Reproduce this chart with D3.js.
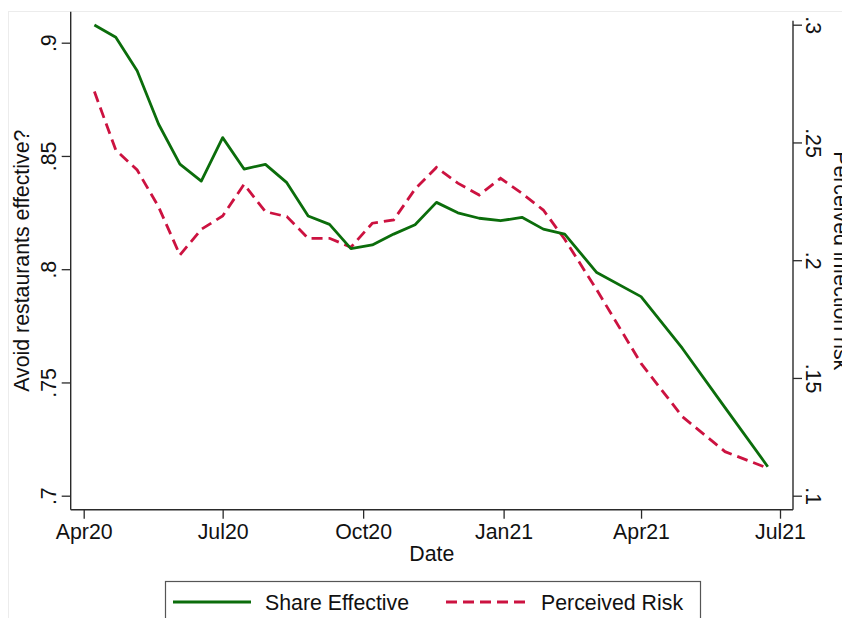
<!DOCTYPE html>
<html>
<head>
<meta charset="utf-8">
<script src="https://cdn.jsdelivr.net/npm/d3@7"></script>
<style>
  html, body { margin: 0; padding: 0; background: #fff; overflow: hidden; }
  svg { display: block; font-family: "Liberation Sans", Arial, Helvetica, sans-serif; }
</style>
</head>
<body>
<svg id="chart" width="842" height="618"></svg>
<script>
// Survey waves (roughly biweekly, monthly later)
const waveDates = [
  "2020-04-08", "2020-04-22", "2020-05-06", "2020-05-20", "2020-06-03", "2020-06-17",
  "2020-07-01", "2020-07-15", "2020-07-29", "2020-08-12", "2020-08-26", "2020-09-09",
  "2020-09-23", "2020-10-07", "2020-10-21", "2020-11-04", "2020-11-18", "2020-12-02",
  "2020-12-16", "2020-12-30", "2021-01-13", "2021-01-27", "2021-02-10", "2021-03-03",
  "2021-04-01", "2021-04-28", "2021-05-26", "2021-06-23"
];

// Share saying avoiding restaurants is effective (left axis)
const shareEffective = [
  0.9078, 0.9024, 0.8876, 0.8641, 0.8464, 0.8389,
  0.8581, 0.8442, 0.8463, 0.8382, 0.8235, 0.8198,
  0.8091, 0.8107, 0.8155, 0.8196, 0.8295, 0.8249,
  0.8225, 0.8214, 0.8229, 0.8177, 0.8155, 0.7985,
  0.7879, 0.7651, 0.7389, 0.7128
];

// Perceived infection risk (right axis)
const perceivedRisk = [
  0.2716, 0.2468, 0.2383, 0.2227, 0.2022, 0.2131,
  0.2188, 0.2322, 0.2206, 0.2185, 0.2093, 0.2093,
  0.2055, 0.2157, 0.2171, 0.2302, 0.2394, 0.2327,
  0.2277, 0.2348, 0.2284, 0.2213, 0.2089, 0.1874,
  0.1562, 0.1336, 0.1187, 0.1117
];

const xTickDates = ["2020-04-01", "2020-07-01", "2020-10-01", "2021-01-01", "2021-04-01", "2021-07-01"];
const xTickLabels = ["Apr20", "Jul20", "Oct20", "Jan21", "Apr21", "Jul21"];
const leftTicks = [0.7, 0.75, 0.8, 0.85, 0.9];
const leftTickLabels = [".7", ".75", ".8", ".85", ".9"];
const rightTicks = [0.1, 0.15, 0.2, 0.25, 0.3];
const rightTickLabels = [".1", ".15", ".2", ".25", ".3"];

const seriesNames = ["Share Effective", "Perceived Risk"];

const parse = d3.utcParse("%Y-%m-%d");
const svg = d3.select("#chart");

const FONT = 21.3;
const GREEN = "#0b6d0b";
const RED = "#cc1240";
const AXIS = "#2a2a2a";

// plot region edges
const L = 70.7, R = 793, T = 11.7, B = 509.7;

const x = d3.scaleUtc()
  .domain([parse("2020-04-01"), parse("2021-07-01")])
  .range([83.7, 780]);
const yL = d3.scaleLinear().domain([0.7, 0.9]).range([495.7, 42.7]);
const yR = d3.scaleLinear().domain([0.1, 0.3]).range([495.7, 24.7]);

// faint outer frame
svg.append("rect")
  .attr("x", 8.5).attr("y", 11.5).attr("width", 900).attr("height", 700)
  .attr("fill", "none").attr("stroke", "#ececec").attr("stroke-width", 1);

// left axis
const gL = svg.append("g").attr("transform", `translate(${L},0)`);
gL.call(d3.axisLeft(yL).tickValues(leftTicks).tickSize(9).tickSizeOuter(0)
  .tickFormat((d, i) => leftTickLabels[i]));
gL.select(".domain").remove();
gL.append("line").attr("x1", 0).attr("x2", 0).attr("y1", T).attr("y2", B)
  .attr("stroke", AXIS).attr("stroke-width", 1.4);
gL.selectAll(".tick line").attr("stroke", AXIS).attr("stroke-width", 1.3);
gL.selectAll(".tick text")
  .attr("x", null).attr("dy", null)
  .attr("transform", "translate(-15,0) rotate(-90)")
  .attr("text-anchor", "middle")
  .attr("font-size", FONT).attr("font-family", "Liberation Sans, Arial, sans-serif")
  .attr("fill", "#111");

// right axis
const gR = svg.append("g").attr("transform", `translate(${R},0)`);
gR.call(d3.axisRight(yR).tickValues(rightTicks).tickSize(9).tickSizeOuter(0)
  .tickFormat((d, i) => rightTickLabels[i]));
gR.select(".domain").remove();
gR.append("line").attr("x1", 0).attr("x2", 0).attr("y1", 20.7).attr("y2", B)
  .attr("stroke", AXIS).attr("stroke-width", 1.4);
gR.selectAll(".tick line").attr("stroke", AXIS).attr("stroke-width", 1.3);
gR.selectAll(".tick text")
  .attr("x", null).attr("dy", null)
  .attr("transform", "translate(13,0) rotate(90)")
  .attr("text-anchor", "middle")
  .attr("font-size", FONT).attr("font-family", "Liberation Sans, Arial, sans-serif")
  .attr("fill", "#111");

// bottom axis
const gB = svg.append("g").attr("transform", `translate(0,${B})`);
gB.call(d3.axisBottom(x).tickValues(xTickDates.map(parse)).tickSize(9).tickSizeOuter(0)
  .tickFormat((d, i) => xTickLabels[i]));
gB.select(".domain").remove();
gB.append("line").attr("x1", L).attr("x2", R).attr("y1", 0).attr("y2", 0)
  .attr("stroke", AXIS).attr("stroke-width", 1.4);
gB.selectAll(".tick line").attr("stroke", AXIS).attr("stroke-width", 1.3);
gB.selectAll(".tick text")
  .attr("y", 29.5).attr("dy", null)
  .attr("font-size", FONT).attr("font-family", "Liberation Sans, Arial, sans-serif")
  .attr("fill", "#111");

// axis titles
svg.append("text")
  .attr("transform", `translate(29,${(T + B) / 2}) rotate(-90)`)
  .attr("text-anchor", "middle").attr("font-size", FONT).attr("fill", "#111")
  .text("Avoid restaurants effective?");
svg.append("text")
  .attr("transform", `translate(834,${(T + B) / 2}) rotate(90)`)
  .attr("text-anchor", "middle").attr("font-size", FONT).attr("fill", "#111")
  .text("Perceived infection risk");
svg.append("text")
  .attr("x", (L + R) / 2).attr("y", 561)
  .attr("text-anchor", "middle").attr("font-size", FONT).attr("fill", "#111")
  .text("Date");

// series
const rows = waveDates.map((d, i) => ({ date: parse(d), share: shareEffective[i], risk: perceivedRisk[i] }));

svg.append("path")
  .datum(rows)
  .attr("fill", "none").attr("stroke", RED).attr("stroke-width", 2.8)
  .attr("stroke-dasharray", "11,6")
  .attr("d", d3.line().x(d => x(d.date)).y(d => yR(d.risk)));

svg.append("path")
  .datum(rows)
  .attr("fill", "none").attr("stroke", GREEN).attr("stroke-width", 2.8)
  .attr("stroke-linejoin", "round")
  .attr("d", d3.line().x(d => x(d.date)).y(d => yL(d.share)));

// legend
const leg = svg.append("g");
leg.append("rect")
  .attr("x", 165.5).attr("y", 581.5).attr("width", 535).attr("height", 60)
  .attr("fill", "#fff").attr("stroke", "#555").attr("stroke-width", 1.2);
const legItems = [
  { name: seriesNames[0], color: GREEN, dash: null, x0: 173, x1: 251, tx: 265 },
  { name: seriesNames[1], color: RED, dash: "11,6", x0: 446, x1: 526, tx: 541 }
];
legItems.forEach(it => {
  leg.append("line")
    .attr("x1", it.x0).attr("x2", it.x1).attr("y1", 602).attr("y2", 602)
    .attr("stroke", it.color).attr("stroke-width", 2.8)
    .attr("stroke-dasharray", it.dash);
  leg.append("text")
    .attr("x", it.tx).attr("y", 609.5)
    .attr("font-size", FONT).attr("fill", "#111")
    .text(it.name);
});
</script>
</body>
</html>
